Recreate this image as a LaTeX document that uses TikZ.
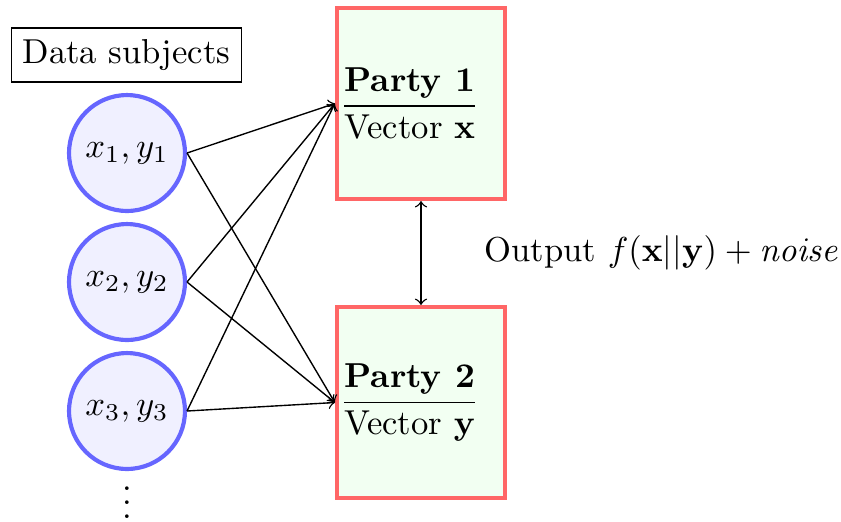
\documentclass[tikz,border=0pt]{standalone}
\begin{document}
\begin{tikzpicture}[x=0.289pt,y=-0.289pt,
  subj/.style={circle,draw=blue!60,fill=blue!6,line width=1.2pt,minimum size=33.5pt,inner sep=0pt},
  party/.style={rectangle,draw=red!60,fill=green!5,line width=1.2pt,minimum width=48.6pt,minimum height=55.2pt,inner sep=0pt},
  link/.style={->,thin}]
\useasboundingbox (0,0) rectangle (841,521);
\node[draw,thin] (ds) at (126.5,55) {Data subjects};
\node[subj] (s1) at (127,153) {$x_1,y_1$};
\node[subj] (s2) at (127,282) {$x_2,y_2$};
\node[subj] (s3) at (127,411) {$x_3,y_3$};
\node[inner sep=0pt] (dots) at (127,492) {$\vdots$};
\node[party] (p1) at (421,103.5) {\hspace*{-6.5pt}\raisebox{-1pt}{$\displaystyle\frac{\textbf{Party 1}}{\mbox{Vector }\mathbf{x}}$}};
\node[party] (p2) at (421,402.5) {\hspace*{-6.5pt}\raisebox{-1pt}{$\displaystyle\frac{\textbf{Party 2}}{\mbox{Vector }\mathbf{y}}$}};
\foreach \s in {s1,s2,s3}{
  \draw[link] (\s.east) -- (p1.west);
  \draw[link] (\s.east) -- (p2.west);
}
\draw[<->,thin] (p1.south) -- (p2.north);
\node[anchor=west,inner sep=0pt] (out) at (484,253) {Output $f(\mathbf{x}||\mathbf{y})+\mathit{noise}$};
\end{tikzpicture}
\end{document}
